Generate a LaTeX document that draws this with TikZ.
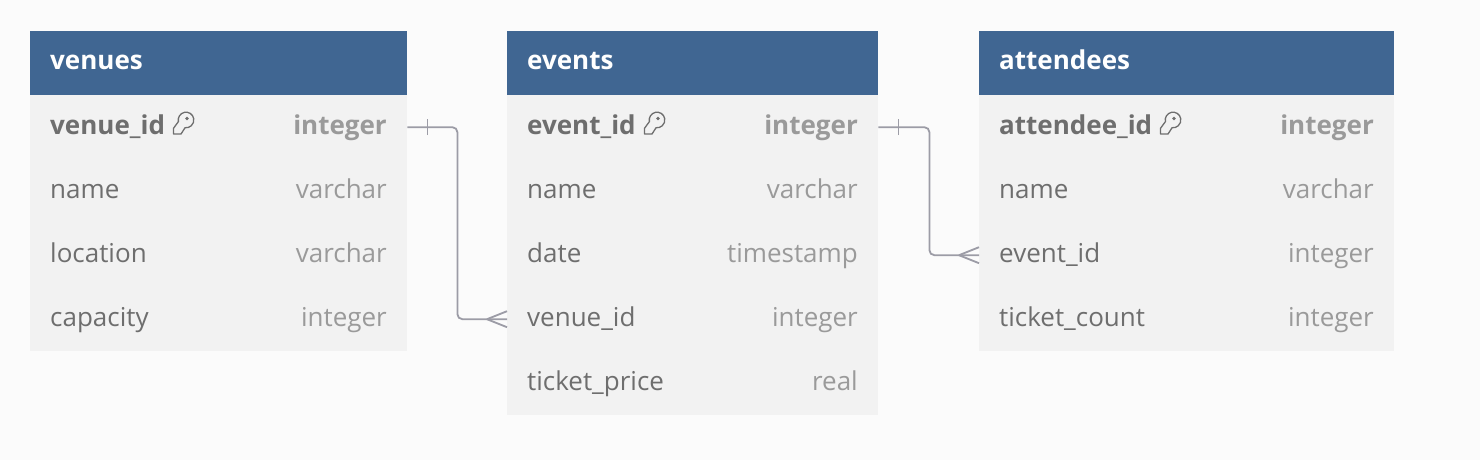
\documentclass[tikz,border=0pt]{standalone}
\usepackage{fontspec}
\setmainfont{Open Sans}
\definecolor{pagebg}{HTML}{FBFBFB}
\definecolor{headblue}{HTML}{406692}
\definecolor{rowgray}{HTML}{F2F2F2}
\definecolor{namegray}{HTML}{6E6E6E}
\definecolor{typegray}{HTML}{9A9A9A}
\definecolor{linkgray}{HTML}{9C9CA6}
\tikzset{
  x=1pt,y=-1pt,
  rowbox/.style={fill=rowgray,draw=none,inner sep=0pt,anchor=north west,minimum height=64pt},
  headbox/.style={fill=headblue,draw=none,inner sep=0pt,anchor=north west,minimum height=64pt},
  headtext/.style={text=white,font=\fontsize{26}{26}\selectfont\bfseries,anchor=base west,inner sep=0pt},
  nametext/.style={text=namegray,font=\fontsize{26}{26}\selectfont,anchor=base west,inner sep=0pt},
  typetext/.style={text=typegray,font=\fontsize{26}{26}\selectfont,anchor=base east,inner sep=0pt},
  pkname/.style={nametext,font=\fontsize{26}{26}\selectfont\bfseries},
  pktype/.style={typetext,font=\fontsize{26}{26}\selectfont\bfseries},
  link/.style={draw=linkgray,line width=1.8pt,rounded corners=5pt},
  tick/.style={draw=linkgray,line width=1.8pt},
  keyicon/.style={draw=namegray,line width=1.3pt,line join=round},
}
\newcommand{\tblrow}[8]{%
  \node[rowbox,minimum width=#3pt] (#1) at (#2,#4) {};
  \node[#7] (#1n) at (#2+20,#4+39.5) {#5};
  \node[#8] (#1t) at (#2+#3-20,#4+39.5) {#6};
}
\newcommand{\tblhead}[4]{%
  \node[headbox,minimum width=#3pt] (#1) at (#2,31) {};
  \node[headtext] (#1n) at (#2+20,70) {#4};
}
% key: round bow upper right, shaft to lower left; origin = centre of bow
\newcommand{\keyat}[1]{%
  \begin{scope}[shift={(#1)}]
    \draw[keyicon] (-7.6,1.6) arc[start angle=168,end angle=457,radius=7.8]
      -- (-5,14) -- (-12.5,14) -- (-12.5,8.3) -- cycle;
    \fill[namegray] (1,-1.5) circle (1.8);
  \end{scope}
}
\begin{document}
\begin{tikzpicture}
\useasboundingbox (0,0) rectangle (1480,460);
\fill[pagebg] (0,0) rectangle (1480,460);

\tblhead{vh}{30}{377}{venues}
\tblrow{v1}{30}{377}{95}{venue\_id}{integer}{pkname}{pktype}
\tblrow{v2}{30}{377}{159}{name}{varchar}{nametext}{typetext}
\tblrow{v3}{30}{377}{223}{location}{varchar}{nametext}{typetext}
\tblrow{v4}{30}{377}{287}{capacity}{integer}{nametext}{typetext}

\tblhead{eh}{507}{371}{events}
\tblrow{e1}{507}{371}{95}{event\_id}{integer}{pkname}{pktype}
\tblrow{e2}{507}{371}{159}{name}{varchar}{nametext}{typetext}
\tblrow{e3}{507}{371}{223}{date}{timestamp}{nametext}{typetext}
\tblrow{e4}{507}{371}{287}{venue\_id}{integer}{nametext}{typetext}
\tblrow{e5}{507}{371}{351}{ticket\_price}{real}{nametext}{typetext}

\tblhead{ah}{979}{415}{attendees}
\tblrow{a1}{979}{415}{95}{attendee\_id}{integer}{pkname}{pktype}
\tblrow{a2}{979}{415}{159}{name}{varchar}{nametext}{typetext}
\tblrow{a3}{979}{415}{223}{event\_id}{integer}{nametext}{typetext}
\tblrow{a4}{979}{415}{287}{ticket\_count}{integer}{nametext}{typetext}

\keyat{186,120}
\keyat{657,120}
\keyat{1173,120}

% connectors
\draw[link] (v1.east) -- ++(50,0) |- (e4.west);
\draw[link] (e1.east) -- ++(51,0) |- (a3.west);
% one-side ticks
\draw[tick] ([xshift=20pt,yshift=-8pt]v1.east) -- ([xshift=20pt,yshift=8pt]v1.east);
\draw[tick] ([xshift=20pt,yshift=-8pt]e1.east) -- ([xshift=20pt,yshift=8pt]e1.east);
% crow's feet
\draw[tick] ([xshift=-20pt]e4.west) -- ([yshift=-8pt]e4.west);
\draw[tick] ([xshift=-20pt]e4.west) -- ([yshift=8pt]e4.west);
\draw[tick] ([xshift=-20pt]a3.west) -- ([yshift=-8pt]a3.west);
\draw[tick] ([xshift=-20pt]a3.west) -- ([yshift=8pt]a3.west);
\end{tikzpicture}
\end{document}
